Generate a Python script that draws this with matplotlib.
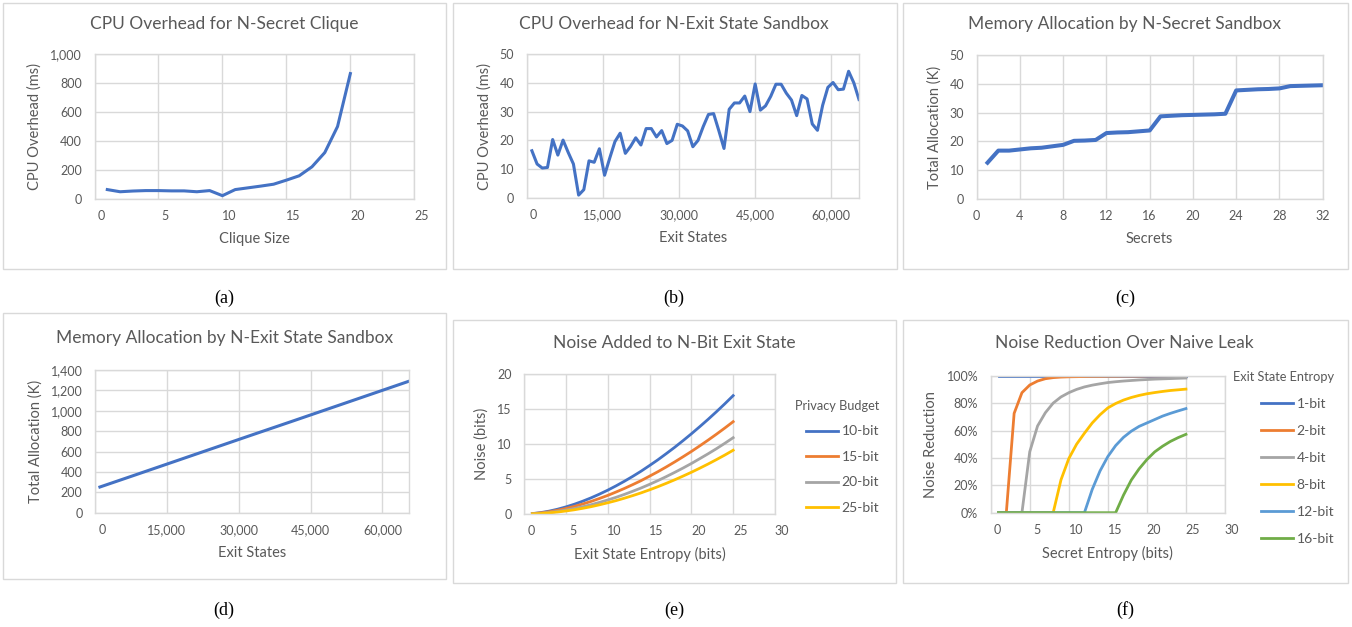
import numpy as np
import matplotlib
matplotlib.use("Agg")
import matplotlib.pyplot as plt
import matplotlib.transforms as mtransforms
from matplotlib.patches import Rectangle
from matplotlib.ticker import FuncFormatter

plt.rcParams['font.family'] = ['Lato', 'DejaVu Sans']

# (a) CPU overhead vs clique size
a_clique = list(range(1, 21))
a_cpu = [65, 50, 55, 58, 58, 56, 56, 50, 58, 23,
         65, 77, 89, 102, 130, 160, 222, 320, 500, 865]

# (b) CPU overhead vs exit states
b_states = np.arange(1024, 65537, 1024)
b_cpu = [16.4, 11.8, 10.4, 10.6, 20.3, 14.9, 20.1, 15.8, 11.8, 1.0,
         2.9, 12.9, 12.4, 17.1, 7.9, 13.9, 19.6, 22.5, 15.5, 17.9,
         20.9, 18.4, 24.1, 24.1, 21.2, 23.4, 18.9, 20.0, 25.6, 25.0,
         23.3, 17.8, 20.0, 24.8, 29.0, 29.3, 23.4, 17.2, 30.8, 33.0,
         33.0, 35.4, 30.0, 39.6, 30.5, 32.0, 35.3, 39.5, 39.5, 36.4,
         34.0, 28.6, 35.6, 34.4, 25.7, 23.5, 32.2, 38.4, 40.1, 37.6,
         37.8, 44.0, 40.0, 34.2]

# (c) memory vs secrets
c_secrets = list(range(1, 33))
c_alloc = [12.6, 16.8, 16.8, 17.2, 17.6, 17.8, 18.3, 18.8, 20.2, 20.3,
           20.5, 22.9, 23.1, 23.2, 23.5, 23.8, 28.7, 28.9, 29.1, 29.2,
           29.3, 29.4, 29.6, 37.7, 37.9, 38.1, 38.2, 38.4, 39.2, 39.3,
           39.4, 39.5]

# (d) memory vs exit states
d_states = [1024, 8192, 16384, 24576, 32768, 40960, 49152, 57344, 65536]
d_alloc = [252, 367, 499, 631, 763, 894, 1026, 1158, 1290]

# (e) noise added, per privacy budget
e_entropy = list(range(1, 26))
e_budgets = ['10-bit', '15-bit', '20-bit', '25-bit']
e_noise_10 = [0.06, 0.20, 0.41, 0.68, 1.01, 1.39, 1.82, 2.30, 2.83, 3.40,
              4.02, 4.68, 5.38, 6.12, 6.92, 7.74, 8.62, 9.52, 10.47, 11.45,
              12.47, 13.52, 14.61, 15.74, 16.91]
e_noise_15 = [0.05, 0.16, 0.32, 0.53, 0.79, 1.08, 1.42, 1.79, 2.21, 2.65,
              3.14, 3.65, 4.20, 4.77, 5.40, 6.04, 6.72, 7.43, 8.17, 8.93,
              9.73, 10.55, 11.40, 12.28, 13.19]
e_noise_20 = [0.03, 0.10, 0.22, 0.37, 0.56, 0.78, 1.03, 1.32, 1.65, 2.00,
              2.38, 2.80, 3.25, 3.72, 4.23, 4.77, 5.34, 5.94, 6.56, 7.21,
              7.90, 8.60, 9.33, 10.10, 10.90]
e_noise_25 = [0.02, 0.07, 0.16, 0.28, 0.43, 0.60, 0.81, 1.04, 1.31, 1.60,
              1.91, 2.26, 2.63, 3.02, 3.45, 3.90, 4.38, 4.88, 5.41, 5.96,
              6.54, 7.14, 7.77, 8.42, 9.11]

# (f) noise reduction, per exit state entropy
f_entropy = list(range(1, 26))
f_labels = ['1-bit', '2-bit', '4-bit', '8-bit', '12-bit', '16-bit']
f_red_1 = [1.0] * 25
f_red_2 = [0, 0, 0.725, 0.876, 0.932, 0.961, 0.978, 0.986, 0.990, 0.992,
           0.993, 0.994, 0.995, 0.995, 0.996, 0.996, 0.997, 0.997, 0.997, 0.998,
           0.998, 0.998, 0.998, 0.999, 0.999]
f_red_4 = [0, 0, 0, 0, 0.445, 0.633, 0.73, 0.80, 0.845, 0.876,
           0.90, 0.918, 0.931, 0.941, 0.95, 0.956, 0.961, 0.965, 0.969, 0.972,
           0.975, 0.977, 0.979, 0.981, 0.983]
f_red_8 = [0, 0, 0, 0, 0, 0, 0, 0, 0.24, 0.395,
           0.50, 0.58, 0.655, 0.715, 0.765, 0.797, 0.822, 0.841, 0.856, 0.868,
           0.877, 0.885, 0.892, 0.897, 0.902]
f_red_12 = [0, 0, 0, 0, 0, 0, 0, 0, 0, 0,
            0, 0, 0.17, 0.305, 0.41, 0.49, 0.55, 0.595, 0.63, 0.655,
            0.68, 0.705, 0.725, 0.743, 0.76]
f_red_16 = [0, 0, 0, 0, 0, 0, 0, 0, 0, 0,
            0, 0, 0, 0, 0, 0, 0.128, 0.238, 0.32, 0.388,
            0.444, 0.485, 0.52, 0.548, 0.572]

BLUE = '#4472C4'
ORANGE = '#ED7D31'
GRAY = '#A5A5A5'
GOLD = '#FFC000'
LBLUE = '#5B9BD5'
GREEN = '#70AD47'
TXT = '#595959'
GRID = '#D9D9D9'

W, H = 1352, 627
fig = plt.figure(figsize=(W / 100, H / 100), dpi=100)
fig.patch.set_facecolor('white')


def px_axes(x0, x1, y0, y1):
    return fig.add_axes([x0 / W, 1 - y1 / H, (x1 - x0) / W, (y1 - y0) / H])


def box(x0, x1, y0, y1):
    fig.patches.append(Rectangle((x0 / W, 1 - y1 / H), (x1 - x0) / W, (y1 - y0) / H,
                                 transform=fig.transFigure, fill=False,
                                 edgecolor=GRID, linewidth=1))


def style(ax, xticks, yticks, xlabel, ylabel, xfmt=None, yfmt=None):
    ax.set_xlim(xticks[0], xticks[-1])
    ax.set_ylim(yticks[0], yticks[-1])
    ax.set_xticks(xticks)
    ax.set_yticks(yticks)
    ax.grid(True, color=GRID, linewidth=1)
    ax.set_axisbelow(True)
    for s in ax.spines.values():
        s.set_color(GRID)
        s.set_linewidth(1)
    ax.tick_params(length=0, labelsize=9, labelcolor=TXT, pad=8)
    ax.tick_params(axis='y', pad=9)
    if xfmt:
        ax.xaxis.set_major_formatter(xfmt)
    if yfmt:
        ax.yaxis.set_major_formatter(yfmt)
    ax.set_xlabel(xlabel, fontsize=10.5, color=TXT, labelpad=7)
    ax.set_ylabel(ylabel, fontsize=10.5, color=TXT, labelpad=6)


def shift_xlabels(ax, dx, first_only=False):
    off = mtransforms.ScaledTranslation(dx / 100, 0, fig.dpi_scale_trans)
    for i, t in enumerate(ax.xaxis.get_major_ticks()):
        if first_only and i > 0:
            break
        t.label1.set_transform(t.label1.get_transform() + off)


def side_legend(ax, x, y, title, spacing):
    leg = ax.legend(loc='upper left', bbox_to_anchor=(x / W, 1 - y / H),
                    bbox_transform=fig.transFigure, frameon=False,
                    title=title, fontsize=10, title_fontsize=9.2,
                    handlelength=2.3, handletextpad=0.25, labelspacing=spacing,
                    borderpad=0, borderaxespad=0, alignment='right')
    for t in leg.get_texts():
        t.set_color(TXT)
    leg.get_title().set_color(TXT)


thousands = FuncFormatter(lambda v, p: f'{v:,.0f}')
percent = FuncFormatter(lambda v, p: f'{v * 100:.0f}%')

# panel frames
box(3, 446, 3, 269)
box(453, 897, 3, 269)
box(903, 1348, 3, 269)
box(3, 446, 313, 579)
box(453, 896, 320, 583)
box(903, 1348, 320, 583)

# (a)
ax = px_axes(94.5, 414.3, 54, 199)
ax.plot(a_clique, a_cpu, color=BLUE, linewidth=2.2)
style(ax, [0, 5, 10, 15, 20, 25], [0, 200, 400, 600, 800, 1000],
      'Clique Size', 'CPU Overhead (ms)', yfmt=thousands)
shift_xlabels(ax, 7)
fig.text(224.5 / W, 1 - 24 / H, 'CPU Overhead for N-Secret Clique',
         ha='center', va='center', fontsize=12.5, color=TXT)

# (b)
ax = px_axes(526.7, 859, 54, 198)
ax.plot(b_states, b_cpu, color=BLUE, linewidth=2.2)
style(ax, [0, 15000, 30000, 45000, 60000], [0, 10, 20, 30, 40, 50],
      'Exit States', 'CPU Overhead (ms)', xfmt=thousands)
ax.set_xlim(0, 65536)
shift_xlabels(ax, 7, first_only=True)
fig.text(674 / W, 1 - 24 / H, 'CPU Overhead for N-Exit State Sandbox',
         ha='center', va='center', fontsize=12.5, color=TXT)

# (c)
ax = px_axes(976.7, 1322.7, 55, 199)
ax.plot(c_secrets, c_alloc, color=BLUE, linewidth=2.9)
style(ax, list(range(0, 33, 4)), [0, 10, 20, 30, 40, 50],
      'Secrets', 'Total Allocation (K)')
fig.text(1125 / W, 1 - 24 / H, 'Memory Allocation by N-Secret Sandbox',
         ha='center', va='center', fontsize=12.5, color=TXT)

# (d)
ax = px_axes(95, 409, 370, 512.7)
ax.plot(d_states, d_alloc, color=BLUE, linewidth=2.2)
style(ax, [0, 15000, 30000, 45000, 60000], list(range(0, 1401, 200)),
      'Exit States', 'Total Allocation (K)', xfmt=thousands, yfmt=thousands)
ax.set_xlim(0, 65536)
shift_xlabels(ax, 7, first_only=True)
fig.text(224.5 / W, 1 - 338 / H, 'Memory Allocation by N-Exit State Sandbox',
         ha='center', va='center', fontsize=12.5, color=TXT)

# (e)
ax = px_axes(524, 775, 374, 514)
for vals, c, lab in zip([e_noise_10, e_noise_15, e_noise_20, e_noise_25],
                        [BLUE, ORANGE, GRAY, GOLD], e_budgets):
    ax.plot(e_entropy, vals, color=c, linewidth=2.0, label=lab)
style(ax, [0, 5, 10, 15, 20, 25, 30], [0, 5, 10, 15, 20],
      'Exit State Entropy (bits)', 'Noise (bits)')
shift_xlabels(ax, 7)
side_legend(ax, 795, 400, 'Privacy Budget', 0.97)
fig.text(674 / W, 1 - 343 / H, 'Noise Added to N-Bit Exit State',
         ha='center', va='center', fontsize=12.5, color=TXT)

# (f)
ax = px_axes(990.7, 1225, 375.7, 512.7)
for vals, c, lab in zip([f_red_1, f_red_2, f_red_4, f_red_8, f_red_12, f_red_16],
                        [BLUE, ORANGE, GRAY, GOLD, LBLUE, GREEN], f_labels):
    ax.plot(f_entropy, vals, color=c, linewidth=2.0, label=lab)
style(ax, [0, 5, 10, 15, 20, 25, 30], [0, 0.2, 0.4, 0.6, 0.8, 1.0],
      'Secret Entropy (bits)', 'Noise Reduction', yfmt=percent)
shift_xlabels(ax, 7)
side_legend(ax, 1233, 371, 'Exit State Entropy', 1.08)
fig.text(1124 / W, 1 - 343 / H, 'Noise Reduction Over Naive Leak',
         ha='center', va='center', fontsize=12.5, color=TXT)

# captions
for cx, cy, lab in [(224, 298, '(a)'), (674, 298, '(b)'), (1125, 298, '(c)'),
                    (224, 610, '(d)'), (674, 610, '(e)'), (1125, 610, '(f)')]:
    fig.text(cx / W, 1 - cy / H, lab, ha='center', va='center',
             fontsize=13, family='Liberation Serif', color='black')

fig.savefig('out.png', dpi=100, facecolor='white')
